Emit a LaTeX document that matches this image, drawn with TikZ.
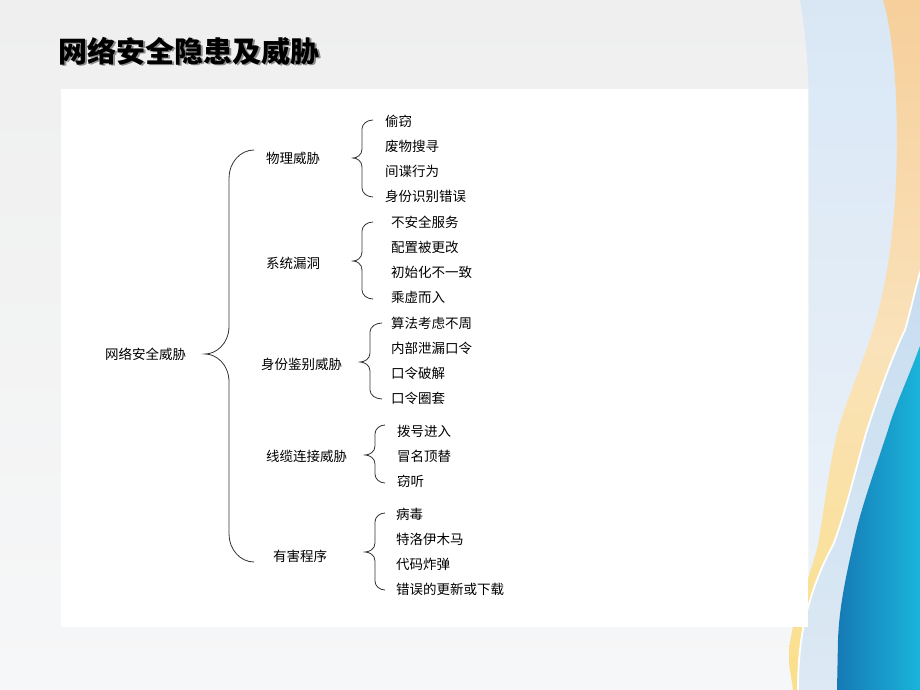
\documentclass[tikz,border=0pt]{standalone}
\usepackage{fontspec}
\newfontfamily\cjk{Noto Sans CJK SC}
\usetikzlibrary{calc}
\definecolor{bgtop}{HTML}{EFEFEF}
\definecolor{bgbot}{HTML}{F6F7F8}
\definecolor{lbA}{HTML}{D9E7F5}
\definecolor{lbB}{HTML}{EEF3F9}
\definecolor{lbC}{HTML}{C6DDF0}
\definecolor{lbD}{HTML}{DDE9F4}
\definecolor{orA}{HTML}{F6CF9B}
\definecolor{orB}{HTML}{FAE2BA}
\definecolor{orC}{HTML}{FAE08A}
\definecolor{blA}{HTML}{1678B4}
\definecolor{blB}{HTML}{1AB6DB}
\definecolor{linec}{HTML}{333333}
\tikzset{
  leaf/.style={anchor=west, inner sep=0pt, font=\cjk\fontsize{13.5}{15}\selectfont, text=black},
  mid/.style={anchor=west, inner sep=0pt, font=\cjk\fontsize{13.5}{15}\selectfont, text=black},
  bracel/.style={draw=linec, line width=0.8pt},
}
% xe xv xt ytop ymid ybot r   (y measured downward from the top edge)
\newcommand\mybrace[7]{%
\draw[bracel] (#1,-#4) .. controls ({#2+0.45*(#1-#2)},-#4) and (#2,{-(#4+0.45*#7)}) .. (#2,{-(#4+#7)})
 -- (#2,{-(#5-#7)}) .. controls (#2,{-(#5-0.35*#7)}) and ({#3+0.45*(#2-#3)},-#5) .. (#3,-#5)
 .. controls ({#3+0.45*(#2-#3)},-#5) and (#2,{-(#5+0.35*#7)}) .. (#2,{-(#5+#7)})
 -- (#2,{-(#6-#7)}) .. controls (#2,{-(#6-0.45*#7)}) and ({#2+0.45*(#1-#2)},-#6) .. (#1,-#6);}
\newcommand\wavepath{(798,-690)
  .. controls (798,-665) and (800,-640) .. (806,-615)
  .. controls (815,-580) and (825,-560) .. (833,-545)
  .. controls (845,-515) and (858,-460) .. (867,-430)
  .. controls (880,-390) and (895,-350) .. (905,-330)
  .. controls (911,-310) and (916,-285) .. (922,-266)}
\begin{document}
\begin{tikzpicture}[x=1pt,y=1pt]
\useasboundingbox (0,0) rectangle (920,-690);
% background
\shade[top color=bgtop, bottom color=bgbot] (0,0) rectangle (920,-690);
% light blue region
\begin{scope}
\clip (800,0) .. controls (805,-30) and (808,-60) .. (809,-100) -- (809,-600) .. controls (800,-630) and (795,-660) .. (795,-690) -- (920,-690) -- (920,0) -- cycle;
\shade[top color=lbA, bottom color=lbB] (780,0) rectangle (920,-690);
\end{scope}
% orange band
\begin{scope}
\clip (883,0) .. controls (895,-40) and (900,-120) .. (895,-200)
  .. controls (890,-270) and (880,-310) .. (868,-345)
  .. controls (856,-380) and (845,-405) .. (838,-430)
  .. controls (830,-460) and (824,-510) .. (818,-545)
  .. controls (808,-585) and (790,-620) .. (789,-655)
  .. controls (789,-670) and (792,-680) .. (793,-690)
  -- \wavepath -- (922,0) -- cycle;
\shade[top color=orA, bottom color=orC, middle color=orB] (780,0) rectangle (922,-690);
\end{scope}
% light blue band right of white line
\begin{scope}
\clip \wavepath -- (922,-690) -- cycle;
\shade[top color=lbC, bottom color=lbD] (780,-260) rectangle (922,-690);
\end{scope}
% white line
\draw[white, line width=1.8pt] \wavepath;
% blue wave
\begin{scope}
\clip (922,-340) .. controls (912,-370) and (895,-405) .. (888,-430)
  .. controls (875,-470) and (860,-510) .. (853,-545)
  .. controls (845,-580) and (839,-610) .. (838,-640)
  -- (837,-690) -- (922,-690) -- cycle;
\shade[left color=blA, right color=blB] (835,-335) rectangle (922,-690);
\end{scope}
% white panel
\fill[white] (61,-89) rectangle (808,-627);
% title
\node[anchor=west, inner sep=0pt, text=black!45, font=\cjk\bfseries\fontsize{29}{32}\selectfont] (titleshadow) at (59.8,-52.8) {网络安全隐患及威胁};
\node[anchor=west, inner sep=0pt, text=black, font=\cjk\bfseries\fontsize{29}{32}\selectfont] (title) at (58,-51) {网络安全隐患及威胁};
% root
\node[mid] (root) at (105,-354) {网络安全威胁};
% level 1
\node[mid] (m1) at (266,-158) {物理威胁};
\node[mid] (m2) at (266,-263) {系统漏洞};
\node[mid] (m3) at (261,-364) {身份鉴别威胁};
\node[mid] (m4) at (266,-456) {线缆连接威胁};
\node[mid] (m5) at (273,-556) {有害程序};
% leaves
\node[leaf] (a1) at (385,-121) {偷窃};
\node[leaf] (a2) at (385,-146) {废物搜寻};
\node[leaf] (a3) at (385,-171) {间谍行为};
\node[leaf] (a4) at (385,-196) {身份识别错误};
\node[leaf] (b1) at (391,-222) {不安全服务};
\node[leaf] (b2) at (391,-247) {配置被更改};
\node[leaf] (b3) at (391,-272) {初始化不一致};
\node[leaf] (b4) at (391,-297) {乘虚而入};
\node[leaf] (c1) at (391,-323) {算法考虑不周};
\node[leaf] (c2) at (391,-348) {内部泄漏口令};
\node[leaf] (c3) at (391,-373) {口令破解};
\node[leaf] (c4) at (391,-398) {口令圈套};
\node[leaf] (d1) at (397,-431) {拨号进入};
\node[leaf] (d2) at (397,-456) {冒名顶替};
\node[leaf] (d3) at (397,-481) {窃听};
\node[leaf] (e1) at (396,-514) {病毒};
\node[leaf] (e2) at (396,-539) {特洛伊木马};
\node[leaf] (e3) at (396,-564) {代码炸弹};
\node[leaf] (e4) at (396,-589) {错误的更新或下载};
% braces
\mybrace{254}{229}{205}{150}{354}{562}{28}
\mybrace{373}{362}{353}{120}{158}{197}{9}
\mybrace{373}{362}{353}{222}{261}{299}{9}
\mybrace{382}{370}{360}{323}{362}{399}{9}
\mybrace{385}{375}{365}{425}{455}{483}{9}
\mybrace{385}{375}{365}{513}{552}{590}{9}
\end{tikzpicture}
\end{document}
